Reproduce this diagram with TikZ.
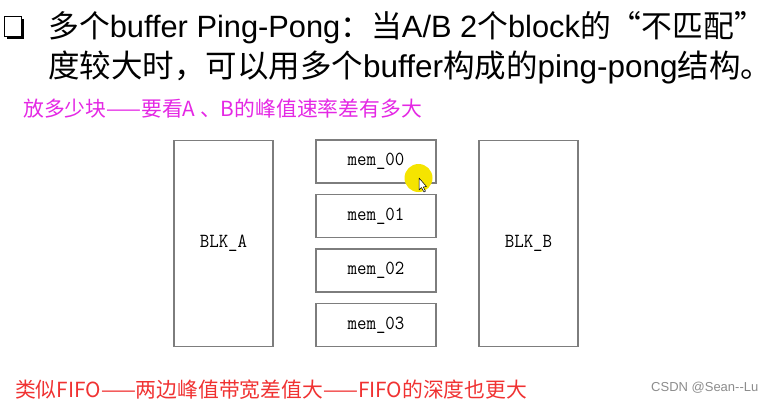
\documentclass[tikz,border=0pt]{standalone}
\usepackage{fontspec}
\setmainfont{Liberation Sans}
\newfontfamily\cjk{Noto Sans CJK SC}
\newfontfamily\boxfont[FakeStretch=0.92]{Latin Modern Mono}
\definecolor{magentatxt}{RGB}{228,40,228}
\definecolor{redtxt}{RGB}{240,50,50}
\definecolor{boxline}{RGB}{125,125,125}
\definecolor{cursory}{RGB}{245,228,0}
\newcommand{\C}[1]{{\cjk #1}}
\begin{document}
\begin{tikzpicture}[x=1pt,y=-1pt,
  blk/.style={draw=boxline,line width=1.3pt,minimum width=99pt,minimum height=206pt,inner sep=0pt,font=\boxfont\fontsize{20}{22}\selectfont},
  memb/.style={draw=boxline,line width=1.3pt,minimum width=120pt,minimum height=43pt,inner sep=0pt,font=\boxfont\fontsize{20}{22}\selectfont},
  txt/.style={inner sep=0pt,anchor=base west}]
\useasboundingbox (0,0) rectangle (771,400);
% checkbox bullet
\fill[black] (7,19) rectangle (24,39);
\fill[white] (4.5,16.5) rectangle (21.5,36.5);
\draw[black,line width=1.5pt] (4.5,16.5) rectangle (21.5,36.5);
% title lines
\node[txt,font=\fontsize{30.8}{38}\selectfont] (l1) at (48,37)
  {\C{多个}buffer Ping-Pong\C{：当}A/B 2\C{个}block\C{的“不匹配”}};
\node[txt,font=\fontsize{31.5}{38}\selectfont] (l2) at (48,77)
  {\C{度较大时，可以用多个}buffer\C{构成的}ping-pong\C{结构。}};
% magenta note
\node[txt,text=magentatxt,font=\cjk\fontsize{20.8}{24}\selectfont] (note1) at (23,116)
  {放多少块——要看A 、B的峰值速率差有多大};
% blocks
\node[blk] (blka) at (223.5,243.5) {BLK\_A};
\node[memb] (m0) at (376,161.5) {mem\_00};
\node[memb] (m1) at (376,216) {mem\_01};
\node[memb] (m2) at (376,270.5) {mem\_02};
\node[memb] (m3) at (376,325) {mem\_03};
\node[blk] (blkb) at (528.5,243.5) {BLK\_B};
% cursor highlight
\fill[cursory] (418.5,178) circle (14);
\draw[black,fill=white,line width=0.5pt,line join=round] (419,178) -- (419,190) -- (421.5,187.5) -- (424,192) -- (425.5,191.2) -- (423.3,187) -- (426.5,186.5) -- cycle;
% red note
\node[txt,text=redtxt,font=\cjk\fontsize{20.8}{24}\selectfont] (note2) at (15,397)
  {类似FIFO——两边峰值带宽差值大——FIFO的深度也更大};
% watermark
\node[txt,text=black!45,font=\fontsize{13}{15}\selectfont] (wm) at (651,391.5) {CSDN @Sean-{}-Lu};
\end{tikzpicture}
\end{document}
